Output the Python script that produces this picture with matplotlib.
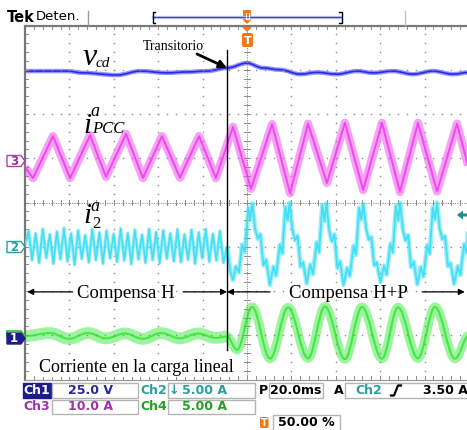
import numpy as np
import matplotlib
matplotlib.use("Agg")
import matplotlib.pyplot as plt
from matplotlib.path import Path
from matplotlib.patches import PathPatch, Polygon, Rectangle, FancyBboxPatch

W, H = 467, 430
SERIF = "Liberation Serif"
SANS = "DejaVu Sans"

# ---- scope traces: time in ms (20 ms/div, trigger at 0), level in divisions ----
t_transient = -9.0

# Ch1: v_cd
vcd_t = [-100.0, -81.1, -73.9, -58.6, -48.2, -36.0, -27.0, -18.0, -9.0, 0.0, 7.2,
         14.9, 23.9, 31.5, 40.5, 49.6, 56.8, 65.8, 74.8, 83.8, 92.8, 100.0]
vcd_v = [2.97, 2.97, 2.93, 2.88, 2.97, 2.93, 2.95, 2.97, 3.04, 3.15, 3.04,
         3.00, 2.90, 2.94, 2.90, 2.97, 2.93, 2.97, 2.90, 2.97, 2.90, 2.94]

# Ch3: i_PCC (peaks / troughs)
ipcc_t = [-100.0, -96.4, -87.4, -79.7, -70.7, -63.5, -54.5, -46.9, -38.3, -30.2, -21.6,
          -14.0, -6.3, 1.8, 11.3, 19.4, 27.5, 36.0, 44.1, 52.3, 60.8, 68.9, 77.0,
          85.6, 94.6, 100.0]
ipcc_v = [0.80, 0.55, 1.50, 0.55, 1.52, 0.58, 1.55, 0.55, 1.50, 0.56, 1.50,
          0.55, 1.71, 0.31, 1.77, 0.21, 1.78, 0.44, 1.80, 0.28, 1.80, 0.24, 1.80,
          0.25, 1.78, 0.75]

# Ch2: i_2 before the transient (evenly sampled ripple)
i2_left_v = [-0.95, -0.64, -1.30, -0.70, -1.36, -0.60, -1.25, -0.72, -1.38, -0.66, -1.28,
             -0.58, -1.33, -0.70, -1.40, -0.63, -1.27, -0.74, -1.35, -0.61, -1.30, -0.68,
             -1.38, -0.64, -1.26, -0.71, -1.34, -0.59, -1.31, -0.69, -1.39, -0.62, -1.28,
             -0.73, -1.36, -0.60, -1.30, -0.67, -1.37, -0.63, -1.27, -0.70, -1.33, -0.61,
             -1.35, -0.72, -1.29, -0.62, -1.38, -0.68, -1.26, -0.60, -1.34, -0.71, -1.31,
             -0.64, -1.36, -1.00]
# Ch2: i_2 after the transient
i2_right_t = [-9.0, -7.5, -6.3, -5.0, -3.6, -2.2, -1.0, 0.6, 1.4, 2.4, 3.6, 4.8, 6.0, 7.4, 8.6, 10.3,
              11.9, 13.1, 14.8, 15.9, 17.3, 18.3, 19.2, 20.4, 21.6, 22.8, 24.1, 25.3, 26.9,
              28.5, 29.7, 31.4, 32.5, 33.9, 34.9, 35.8, 37.0, 38.2, 39.4, 40.7, 41.9, 43.5,
              45.1, 46.3, 48.0, 49.1, 50.5, 51.5, 52.4, 53.6, 54.8, 56.0, 57.3, 58.5, 60.1,
              61.7, 62.9, 64.6, 65.7, 67.1, 68.1, 69.0, 70.2, 71.4, 72.6, 73.9, 75.1, 76.7,
              78.3, 79.5, 81.2, 82.3, 83.7, 84.7, 85.6, 86.8, 88.0, 89.2, 90.5, 91.7, 93.3,
              94.9, 96.1, 97.8, 98.9, 100.3]
i2_right_v = [-1.00, -1.55, -1.75, -1.45, -1.58, -0.95, -1.12, -0.12, -0.38, -0.02, -0.58, -0.82, -0.72, -1.42, -1.30, -1.86,
              -1.45, -1.65, -0.95, -1.15, -0.10, -0.40, 0.00, -0.60, -0.85, -0.75, -1.45, -1.35, -1.83,
              -1.40, -1.62, -0.90, -1.12, -0.06, -0.42, -0.02, -0.62, -0.88, -0.72, -1.48, -1.33, -1.86,
              -1.48, -1.66, -0.98, -1.18, -0.12, -0.38, -0.03, -0.57, -0.84, -0.78, -1.42, -1.36, -1.80,
              -1.43, -1.63, -0.93, -1.13, -0.08, -0.41, -0.01, -0.61, -0.86, -0.74, -1.46, -1.34, -1.85,
              -1.46, -1.67, -0.96, -1.16, -0.11, -0.39, 0.00, -0.59, -0.83, -0.76, -1.44, -1.37, -1.84,
              -1.44, -1.64, -0.94, -1.14, -0.09]

# Ch4: linear load current, before / after the transient
iload_left_t = [-100.0, -88.7, -80.2, -71.6, -63.5, -55.0, -46.9, -38.7, -30.2, -22.1, -14.0, -9.0]
iload_left_v = [-3.02, -2.95, -3.08, -2.95, -3.07, -2.96, -3.08, -2.95, -3.07, -2.96, -3.06, -3.03]
iload_right_t = [-9.0, -4.5, 2.3, 10.4, 18.5, 27.5, 35.1, 44.1, 51.8, 60.8, 68.0, 77.0,
                 84.7, 93.7, 100.0]
iload_right_v = [-3.03, -3.33, -2.36, -3.53, -2.37, -3.52, -2.35, -3.54, -2.36, -3.53, -2.37, -3.52,
                 -2.36, -3.53, -3.00]

C_BLUE, C_MAG, C_CYAN, C_GREEN = "#2424ee", "#ee44ee", "#3fdff5", "#3fe83f"
C_ORANGE = "#f07818"
GRID = "#8c8c8c"


def smooth(t, v):
    verts = [(t[0], v[0])]
    codes = [Path.MOVETO]
    for i in range(1, len(t)):
        d = 0.36 * (t[i] - t[i - 1])
        verts += [(t[i - 1] + d, v[i - 1]), (t[i] - d, v[i]), (t[i], v[i])]
        codes += [Path.CURVE4] * 3
    return Path(verts, codes)


def draw_path(ax, path, color, band, core):
    ax.add_patch(PathPatch(path, fill=False, edgecolor=color, lw=band, alpha=0.5,
                           joinstyle="round", capstyle="butt"))
    ax.add_patch(PathPatch(path, fill=False, edgecolor=color, lw=core, alpha=0.95, joinstyle="round"))


def draw_line(ax, t, v, color, band, core):
    ax.plot(t, v, color=color, lw=band, alpha=0.5, solid_joinstyle="round", solid_capstyle="butt")
    ax.plot(t, v, color=color, lw=core, alpha=0.95, solid_joinstyle="round")


fig = plt.figure(figsize=(W / 100, H / 100), dpi=100)
fig.patch.set_facecolor("white")

ax = fig.add_axes([25 / W, 1 - 379.5 / H, 444 / W, 354 / H])
ax.set_xlim(-100, 100)
ax.set_ylim(-4, 4)
ax.axis("off")

# graticule
dot_v = np.linspace(-4, 4, 41)
dot_t = np.linspace(-100, 100, 51)
for xv in [-80, -60, -40, -20, 20, 40, 60, 80]:
    ax.plot([xv] * len(dot_v), dot_v, ls="none", marker="s", ms=1.0, mew=0, color=GRID)
for yv in [-3, -2, -1, 1, 2, 3]:
    ax.plot(dot_t, [yv] * len(dot_t), ls="none", marker="s", ms=1.0, mew=0, color=GRID)
ax.plot([-100, 100], [0, 0], color=GRID, lw=0.7, ls=(0, (1.2, 1.2)))
ax.plot([0, 0], [-4, 4], color=GRID, lw=0.7, ls=(0, (1.2, 1.2)))
for tv in dot_t:
    ax.plot([tv, tv], [-0.06, 0.06], color=GRID, lw=0.7)
    ax.plot([tv, tv], [4, 3.93], color=GRID, lw=0.7, clip_on=False)
    ax.plot([tv, tv], [-4, -3.93], color=GRID, lw=0.7, clip_on=False)
for yv in dot_v:
    ax.plot([-1.3, 1.3], [yv, yv], color=GRID, lw=0.7)
    ax.plot([-100, -98.6], [yv, yv], color=GRID, lw=0.7, clip_on=False)
ax.plot([-100, -100], [-4, 4], color="#777777", lw=1.6, clip_on=False)
ax.plot([-100, 100], [4, 4], color="#7a7a7a", lw=1.6, clip_on=False)
ax.plot([-100, 100], [-4, -4], color="#9a9a9a", lw=0.9, clip_on=False)

# traces
draw_path(ax, smooth(vcd_t, vcd_v), C_BLUE, 3.2, 1.2)
draw_line(ax, ipcc_t, ipcc_v, C_MAG, 6.0, 1.4)
i2_left_t = np.linspace(-100, t_transient, len(i2_left_v))
draw_line(ax, i2_left_t, i2_left_v, C_CYAN, 2.6, 1.2)
draw_line(ax, i2_right_t, i2_right_v, C_CYAN, 3.4, 1.3)
draw_path(ax, smooth(iload_left_t, iload_left_v), C_GREEN, 8.5, 1.5)
draw_path(ax, smooth(iload_right_t, iload_right_v), C_GREEN, 6.5, 1.5)

# transient and compensation annotations
ax.plot([t_transient, t_transient], [-3.33, 3.45], color="black", lw=1.0)
arr = dict(arrowstyle="-|>", color="black", lw=0.9, mutation_scale=9, shrinkA=0, shrinkB=0)
y_arr = -2.02
ax.annotate("", xy=(-99.0, y_arr), xytext=(-78.5, y_arr), arrowprops=arr)
ax.annotate("", xy=(t_transient, y_arr), xytext=(-28.8, y_arr), arrowprops=arr)
ax.annotate("", xy=(t_transient, y_arr), xytext=(10.4, y_arr), arrowprops=arr)
ax.annotate("", xy=(98.1, y_arr), xytext=(78.9, y_arr), arrowprops=arr)

# overlay in screen pixels for labels and scope chrome
ui = fig.add_axes([0, 0, 1, 1])
ui.set_xlim(0, W)
ui.set_ylim(H, 0)
ui.axis("off")
ui.patch.set_alpha(0)

ui.text(83, 65, "v", fontsize=23, style="italic", family=SERIF, va="baseline")
ui.text(96, 67, "cd", fontsize=11, style="italic", family=SERIF, va="baseline")
ui.text(83, 133, "i", fontsize=21, style="italic", family=SERIF, va="baseline")
ui.text(90, 116, "a", fontsize=13, style="italic", family=SERIF, va="baseline")
ui.text(92, 133, "PCC", fontsize=12, style="italic", family=SERIF, va="baseline")
ui.text(83, 223, "i", fontsize=21, style="italic", family=SERIF, va="baseline")
ui.text(90, 211, "a", fontsize=13, style="italic", family=SERIF, va="baseline")
ui.text(92, 228, "2", fontsize=12, family=SERIF, va="baseline")
ui.text(143, 47, "Transitorio", fontsize=10, family=SERIF, va="center")
ui.annotate("", xy=(227, 68), xytext=(197, 54),
            arrowprops=dict(arrowstyle="-|>", color="black", lw=2.0, mutation_scale=11, shrinkA=0, shrinkB=0))
ui.text(126, 293, "Compensa H", fontsize=13.5, family=SERIF, ha="center", va="center")
ui.text(348, 293, "Compensa H+P", fontsize=13.5, family=SERIF, ha="center", va="center")
ui.text(136, 368, "Corriente en la carga lineal", fontsize=13, family=SERIF, ha="center", va="center",
        bbox=dict(facecolor="white", edgecolor="none", pad=0.5))


def marker(yc, face, edge, label, tcolor):
    pts = [(7, yc - 5.5), (21, yc - 5.5), (25, yc), (21, yc + 5.5), (7, yc + 5.5)]
    ui.add_patch(Polygon(pts, closed=True, facecolor=face, edgecolor=edge, lw=1.0))
    ui.text(14, yc + 0.5, label, color=tcolor, fontsize=8.5, fontweight="bold", family=SANS,
            ha="center", va="center")


marker(161, "white", "#b040b0", "3", "#a030a0")
marker(247, "white", "#2a9e9e", "2", "#2a9e9e")
ui.add_patch(Polygon([(7, 331), (21, 331), (25, 336.5), (7, 336.5)], closed=True,
                     facecolor="none", edgecolor="#30c030", lw=1.2))
marker(338.5, "#1c1c8c", "#1c1c8c", "1", "white")

# trigger level arrow on the right
ui.add_patch(Polygon([(457, 215), (463, 210.5), (463, 213.5), (468, 213.5), (468, 216.5),
                      (463, 216.5), (463, 219.5)], closed=True, facecolor="#1a8f8f", edgecolor="none"))

# trigger marker under the top border
ui.add_patch(Polygon([(242, 27), (252, 27), (247, 32)], closed=True, facecolor=C_ORANGE, edgecolor="none"))
ui.add_patch(FancyBboxPatch((242, 33), 11, 14, boxstyle="round,pad=0,rounding_size=2",
                            facecolor=C_ORANGE, edgecolor="none"))
ui.text(247.5, 40.5, "T", color="white", fontsize=8, fontweight="bold", family=SANS, ha="center", va="center")

# top bar
ui.text(7, 17, "Tek", fontsize=10.5, fontweight="bold", family=SANS, va="center")
ui.text(36, 17, "Deten.", fontsize=9.5, family=SANS, va="center")
ui.plot([88, 88], [11, 25], color="#9a9a9a", lw=1)
ui.plot([405, 405], [11, 25], color="#c0c0c0", lw=1)
ui.plot([153, 341], [17, 17], color="#c8c8f2", lw=2.4)
ui.plot([153, 341], [17, 17], color="#4040c4", lw=0.9)
ui.plot([155, 152.5, 152.5, 155], [12, 12, 23, 23], color="black", lw=1)
ui.plot([339, 341.5, 341.5, 339], [12, 12, 23, 23], color="black", lw=1)
ui.add_patch(Polygon([(243, 10), (251, 10), (251, 20), (247, 24), (243, 20)], closed=True,
                     facecolor=C_ORANGE, edgecolor="none"))
ui.plot([245.5, 245.5, 248.5, 248.5], [13, 19, 19, 13], color="white", lw=0.8)

# status bar
BOX = "#b4b4b4"


def box(x0, y0, x1, y1, face="white", edge=BOX):
    ui.add_patch(Rectangle((x0, y0), x1 - x0, y1 - y0, facecolor=face, edgecolor=edge, lw=1.0))


def stat(x, y, s, color, ha="center"):
    ui.text(x, y, s, color=color, fontsize=9, fontweight="bold", family=SANS, ha=ha, va="center")


C_CH1, C_CH2, C_CH3, C_CH4 = "#26269a", "#2a9e9e", "#a030a8", "#22a022"
box(23, 383, 51, 398, face="#1c1c8c", edge="#1c1c8c")
stat(37, 390.5, "Ch1", "white")
box(52, 383, 138, 398)
stat(90, 390.5, "25.0 V", C_CH1)
stat(153.5, 390.5, "Ch2", C_CH2)
box(168, 383, 255, 398)
stat(174, 390.5, "\u2193", C_CH2)
stat(205, 390.5, "5.00 A", C_CH2)
stat(263.5, 390.5, "P", "black")
box(269, 383, 323, 398)
stat(296, 390.5, "20.0ms", "black")
stat(339, 390.5, "A", "black")
box(345, 383, 472, 398)
stat(369, 390.5, "Ch2", C_CH2)
ui.plot([391, 394, 398, 401], [395.5, 395.5, 385.5, 385.5], color="black", lw=1.6)
stat(423, 390.5, "3.50 A", "black", ha="left")

stat(37, 407, "Ch3", C_CH3)
box(52, 400, 138, 414)
stat(90, 407, "10.0 A", C_CH3)
stat(153.5, 407, "Ch4", C_CH4)
box(168, 400, 255, 414)
stat(205, 407, "5.00 A", C_CH4)

ui.add_patch(FancyBboxPatch((260, 417), 8.5, 11, boxstyle="round,pad=0,rounding_size=1.5",
                            facecolor=C_ORANGE, edgecolor="none"))
ui.text(264.3, 422.8, "T", color="white", fontsize=7, fontweight="bold", family=SANS, ha="center", va="center")
box(273, 415, 340, 431)
stat(306, 423, "50.00 %", "black")

fig.savefig("out.png", dpi=100, facecolor="white")
